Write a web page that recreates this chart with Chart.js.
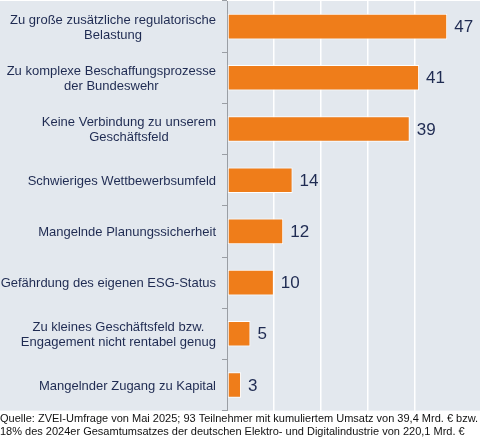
<!DOCTYPE html>
<html><head><meta charset="utf-8">
<script src="https://cdn.jsdelivr.net/npm/chart.js@4"></script>
<style>html,body{margin:0;padding:0;background:#fff}#wrap{width:480px;height:440px}</style>
</head><body><div id="wrap"><canvas id="c" width="480" height="440"></canvas></div>
<script>
const categories = [
  ["Zu große zusätzliche regulatorische", "Belastung"],
  ["Zu komplexe Beschaffungsprozesse", "der Bundeswehr"],
  ["Keine Verbindung zu unserem", "Geschäftsfeld"],
  "Schwieriges Wettbewerbsumfeld",
  "Mangelnde Planungssicherheit",
  "Gefährdung des eigenen ESG-Status",
  ["Zu kleines Geschäftsfeld bzw.", "Engagement nicht rentabel genug"],
  "Mangelnder Zugang zu Kapital"
];
const values = [47, 41, 39, 14, 12, 10, 5, 3];
const sourceLines = [
  "Quelle: ZVEI-Umfrage von Mai 2025; 93 Teilnehmer mit kumuliertem Umsatz von 39,4 Mrd. € bzw.",
  "18% des 2024er Gesamtumsatzes der deutschen Elektro- und Digitalindustrie von 220,1 Mrd. €"
];
const xMax = 54;

const NAVY = '#1f2b52';
const ORANGE = '#ef7d1a';
const BG = '#e3e8ee';
const FONT = '"Liberation Sans", Arial, sans-serif';

const bgPlugin = {
  id: 'bg',
  beforeDraw(chart) {
    const {ctx, chartArea} = chart;
    ctx.save();
    ctx.fillStyle = BG;
    ctx.fillRect(0, chartArea.top, chart.width, chartArea.bottom - chartArea.top);
    ctx.restore();
  }
};
const catLabels = {
  id: 'cl',
  afterDraw(chart) {
    const {ctx} = chart;
    const ys = chart.scales.y;
    ctx.save();
    ctx.fillStyle = NAVY;
    ctx.font = '13px ' + FONT;
    ctx.textBaseline = 'middle';
    ctx.textAlign = 'center';
    const right = ys.right - 11;
    const lh = 15;
    chart.data.labels.forEach((lab, i) => {
      const lines = Array.isArray(lab) ? lab : [lab];
      const w = Math.max(...lines.map(l => ctx.measureText(l).width));
      const cx = right - w / 2;
      const y0 = ys.getPixelForTick(i) - (lines.length - 1) * lh / 2 + 1;
      lines.forEach((l, k) => ctx.fillText(l, cx, y0 + k * lh));
    });
    ctx.restore();
  }
};
const valueLabels = {
  id: 'vl',
  afterDatasetsDraw(chart) {
    const {ctx} = chart;
    const meta = chart.getDatasetMeta(0);
    ctx.save();
    ctx.fillStyle = NAVY;
    ctx.font = '17px ' + FONT;
    ctx.textBaseline = 'middle';
    ctx.textAlign = 'left';
    meta.data.forEach((el, i) => {
      ctx.fillText(String(values[i]), el.x + 7, el.y + 1);
    });
    ctx.restore();
  }
};

new Chart(document.getElementById('c'), {
  type: 'bar',
  data: {
    labels: categories,
    datasets: [{
      data: values,
      backgroundColor: ORANGE,
      borderColor: '#ffffff',
      borderWidth: 1,
      borderSkipped: false,
      categoryPercentage: 1,
      barPercentage: 0.5
    }]
  },
  options: {
    indexAxis: 'y',
    responsive: false,
    animation: false,
    layout: { padding: { top: 1, right: 0, left: 0, bottom: 0 } },
    plugins: {
      legend: { display: false },
      tooltip: { enabled: false },
      title: {
        display: true,
        position: 'bottom',
        align: 'start',
        text: sourceLines,
        color: '#111',
        font: { family: FONT, size: 11, weight: 'normal', lineHeight: 1.2 },
        padding: { top: 2, bottom: 1 }
      }
    },
    scales: {
      x: {
        min: 0, max: xMax,
        ticks: { display: false, stepSize: 10 },
        border: { display: false },
        grid: {
          color: (c) => (c.tick && c.tick.value % 10 === 0 && c.tick.value !== 0) ? '#ffffff' : 'rgba(0,0,0,0)',
          lineWidth: 1.5,
          drawTicks: false,
          tickLength: 0
        }
      },
      y: {
        afterFit(scale) { scale.width = 227; },
        border: { display: true, color: '#9a9ea4', width: 1 },
        grid: {
          drawOnChartArea: false,
          drawTicks: true,
          tickLength: 5,
          color: '#9a9ea4',
          offset: true
        },
        ticks: { display: false, autoSkip: false }
      }
    }
  },
  plugins: [bgPlugin, valueLabels, catLabels]
});
</script></body></html>
